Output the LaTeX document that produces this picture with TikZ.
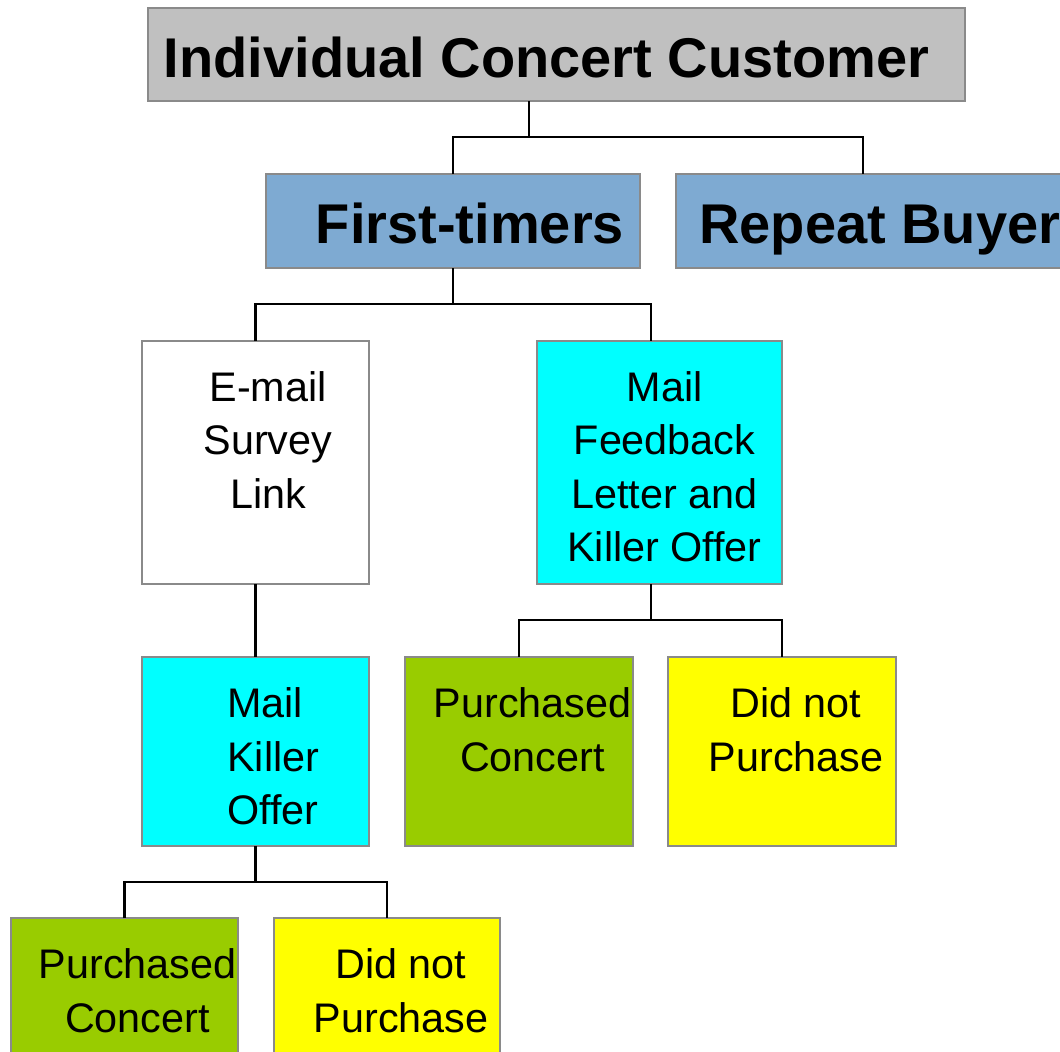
\documentclass[tikz,border=0pt]{standalone}
\usepackage{fontspec}
\setmainfont{Liberation Sans}
\usetikzlibrary{fit}
\definecolor{edgegray}{HTML}{8A8A8A}
\definecolor{headgray}{HTML}{C0C0C0}
\definecolor{segblue}{HTML}{7EAAD2}
\definecolor{actcyan}{HTML}{00FFFF}
\definecolor{buygreen}{HTML}{99CC00}
\definecolor{nobuyyellow}{HTML}{FFFF00}
\begin{document}
\begin{tikzpicture}[x=0.75pt,y=-0.75pt,
  box/.style={draw=edgegray, line width=2pt, inner sep=0pt, outer sep=0pt},
  conn/.style={draw=black, line width=1.6pt},
  bigtxt/.style={font=\fontsize{42}{50}\selectfont\bfseries, inner sep=0pt},
  txt/.style={font=\fontsize{31}{40.1}\selectfont, align=center, inner sep=0pt}]
\useasboundingbox (0,0) rectangle (1060,1051);

% boxes
\node[box, fill=headgray, fit={(148,8) (965,101)}] (top) {};
\node[box, fill=segblue, fit={(266,174) (640,268)}] (ft) {};
\node[box, fill=segblue, fit={(676,174) (1090,268)}] (rb) {};
\node[box, fill=white, fit={(142,341) (369,584)}] (em) {};
\node[box, fill=actcyan, fit={(537,341) (782,584)}] (mfb) {};
\node[box, fill=actcyan, fit={(142,657) (369,846)}] (mko) {};
\node[box, fill=buygreen, fit={(405,657) (633,846)}] (pc1) {};
\node[box, fill=nobuyyellow, fit={(668,657) (896,846)}] (dnp1) {};
\node[box, fill=buygreen, fit={(11,918) (238,1080)}] (pc2) {};
\node[box, fill=nobuyyellow, fit={(274,918) (500,1080)}] (dnp2) {};

% branch points of the tree
\coordinate (b1) at (529,137);
\coordinate (rbk) at (863,174);
\coordinate (b2) at (453,304);
\coordinate (mfbk) at (651,341);
\coordinate (b3) at (651,620);
\coordinate (b4) at (256,882);

% connectors
\draw[conn] (top.south -| b1) -- (b1);
\draw[conn] (ft.north) |- (b1 -| rbk) -- (rb.north -| rbk);
\draw[conn] (ft.south) -- (b2);
\draw[conn] (em.north) |- (b2) -| (mfb.north -| mfbk);
\draw[conn] (em.south) -- (mko.north);
\draw[conn] (mfb.south -| b3) -- (b3);
\draw[conn] (pc1.north) |- (b3) -| (dnp1.north);
\draw[conn] (mko.south) -- (mko.south |- b4);
\draw[conn] (pc2.north) |- (b4) -| (dnp2.north);

% labels
\node[bigtxt, anchor=base] (t1) at (546.5,77) {Individual Concert Customer};
\node[bigtxt, anchor=base] (t2) at (470,243) {First-timers};
\node[bigtxt, anchor=base west] (t3) at (699,243) {Repeat Buyer};
\node[txt, anchor=north] (t4) at (268,371.3) {E-mail\\Survey\\Link};
\node[txt, anchor=north] (t5) at (664.5,371.3) {Mail\\Feedback\\Letter and\\Killer Offer};
\node[txt, anchor=north west, align=left] (t6) at (227,687.3) {Mail\\Killer\\Offer};
\node[txt, anchor=north] (t7) at (532.5,687.3) {Purchased\\Concert};
\node[txt, anchor=north] (t8) at (796,687.3) {Did not\\Purchase};
\node[txt, anchor=north] (t9) at (137.5,948.3) {Purchased\\Concert};
\node[txt, anchor=north] (t10) at (401,948.3) {Did not\\Purchase};
\end{tikzpicture}
\end{document}
